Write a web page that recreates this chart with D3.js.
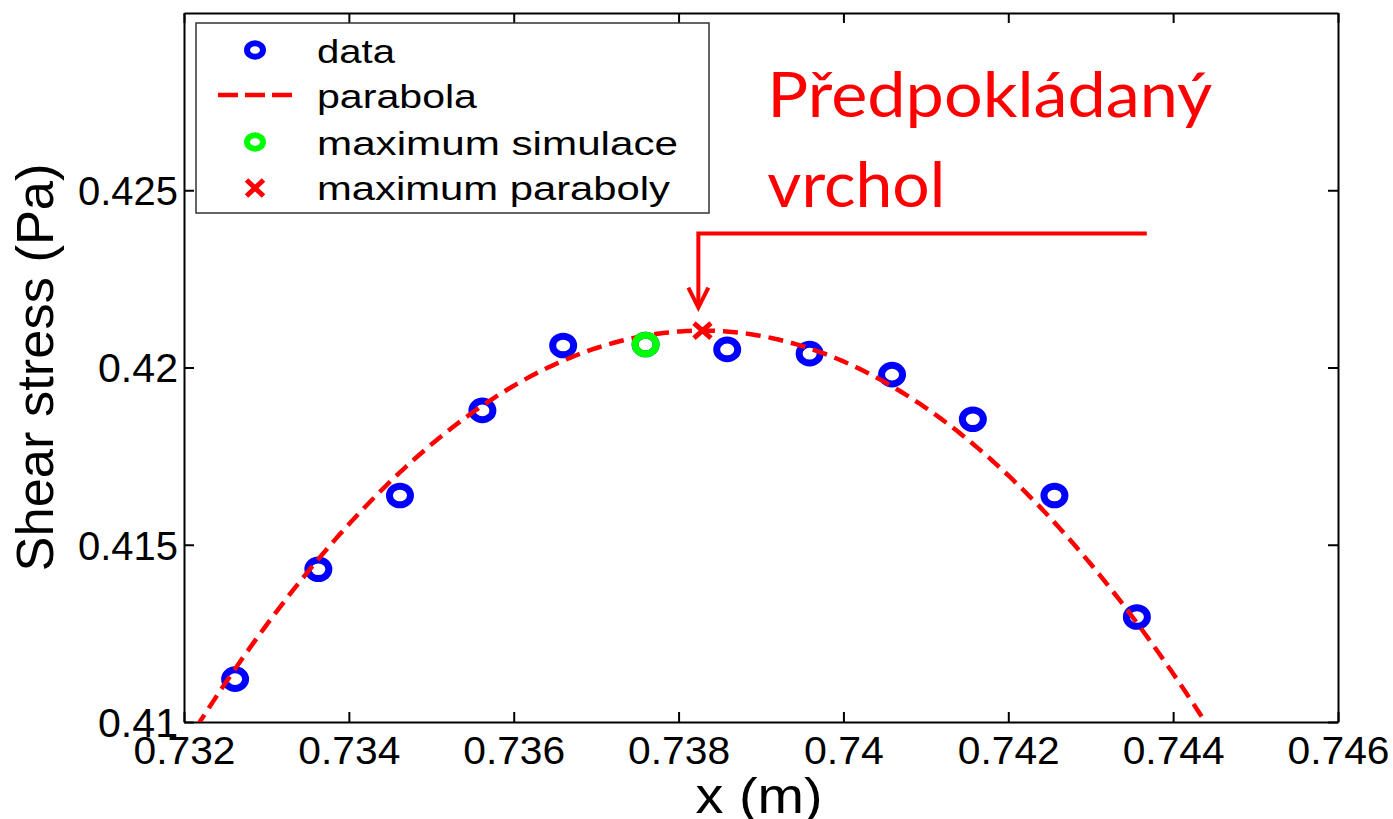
<!DOCTYPE html>
<html>
<head>
<meta charset="utf-8">
<script src="https://cdn.jsdelivr.net/npm/d3@7"></script>
<style>
  html, body { margin: 0; padding: 0; background: #fff; }
  svg { display: block; }
  text { font-family: "Liberation Sans", Arial, Helvetica, sans-serif; fill: #000; }
</style>
</head>
<body>
<svg id="chart" width="1393" height="819"></svg>
<script>
// Sampled shear stress along x
const xValues = [0.73262, 0.73363, 0.73462, 0.73562, 0.73660, 0.73760,
                 0.73859, 0.73959, 0.74059, 0.74157, 0.74256, 0.74356];
const stressValues = [0.41121, 0.41431, 0.41639, 0.41879, 0.42062, 0.42065,
                      0.42051, 0.42039, 0.41980, 0.41854, 0.41639, 0.41296];

// Fitted parabola: y = vertexY - curvature * (x - vertexX)^2
const parabolaVertex = [0.73829, 0.42104];
const parabolaCurvature = 296.8;

// Axis ticks
const xTicks = [0.732, 0.734, 0.736, 0.738, 0.74, 0.742, 0.744, 0.746];
const xTickLabels = ["0.732", "0.734", "0.736", "0.738", "0.74", "0.742", "0.744", "0.746"];
const yTicks = [0.41, 0.415, 0.42, 0.425];
const yTickLabels = ["0.41", "0.415", "0.42", "0.425"];

// Legend entries
const legendLabels = ["data", "parabola", "maximum simulace", "maximum paraboly"];

// Callout pointing to the expected peak
const calloutLines = ["Předpokládaný", "vrchol"];
const calloutArrowX = 0.73824;
const calloutTipY = 0.42169;
const calloutBarY = 0.42378;
const calloutBarEndX = 0.74368;

const svg = d3.select("#chart");
const W = 1393, H = 819;
const margin = { left: 184, right: 55, top: 13, bottom: 97 };
const plotW = W - margin.left - margin.right;
const plotH = H - margin.top - margin.bottom;

const x = d3.scaleLinear().domain([0.732, 0.746]).range([margin.left, margin.left + plotW]);
const y = d3.scaleLinear().domain([0.41, 0.43]).range([margin.top + plotH, margin.top]);

svg.append("rect").attr("width", W).attr("height", H).attr("fill", "#fff");

svg.append("defs").append("clipPath").attr("id", "plotClip")
  .append("rect")
  .attr("x", margin.left).attr("y", margin.top)
  .attr("width", plotW).attr("height", plotH);

// Axes box with inward ticks on all four sides
const tickLen = 10;
const axisStroke = 2;
const axX0 = x.range()[0], axX1 = x.range()[1];
const axY0 = y.range()[0], axY1 = y.range()[1];

const bottomAxis = d3.axisBottom(x).tickValues(xTicks).tickSizeInner(-tickLen).tickSizeOuter(0)
  .tickFormat((d, i) => xTickLabels[i]);
const topAxis = d3.axisTop(x).tickValues(xTicks).tickSizeInner(-tickLen).tickSizeOuter(0).tickFormat("");
const leftAxis = d3.axisLeft(y).tickValues(yTicks).tickSizeInner(-tickLen).tickSizeOuter(0)
  .tickFormat((d, i) => yTickLabels[i]);
const rightAxis = d3.axisRight(y).tickValues(yTicks).tickSizeInner(-tickLen).tickSizeOuter(0).tickFormat("");

function styleAxis(g) {
  g.selectAll("path.domain").attr("stroke", "#000").attr("stroke-width", axisStroke);
  g.selectAll(".tick line").attr("stroke", "#000").attr("stroke-width", axisStroke);
}

const gB = svg.append("g").attr("transform", `translate(0,${axY0})`).call(bottomAxis).call(styleAxis);
gB.selectAll(".tick text")
  .attr("y", 42).attr("dy", null)
  .style("font-size", "39px")
  .attr("font-family", "Liberation Sans, Arial, sans-serif")
  .each(function (d, i) {
    const label = xTickLabels[i];
    d3.select(this).attr("textLength", label.length === 4 ? 80 : 102).attr("lengthAdjust", "spacingAndGlyphs");
  });

svg.append("g").attr("transform", `translate(0,${axY1})`).call(topAxis).call(styleAxis);

const gL = svg.append("g").attr("transform", `translate(${axX0},0)`).call(leftAxis).call(styleAxis);
gL.selectAll(".tick text")
  .attr("x", -6).attr("dy", "0.36em")
  .style("font-size", "40px")
  .each(function (d, i) {
    const label = yTickLabels[i];
    d3.select(this).attr("textLength", label.length === 4 ? 80 : 100).attr("lengthAdjust", "spacingAndGlyphs");
  });

svg.append("g").attr("transform", `translate(${axX1},0)`).call(rightAxis).call(styleAxis);
svg.selectAll(".tick text").attr("fill", "#000");

// Axis titles
svg.append("text")
  .attr("x", (axX0 + axX1) / 2 - 2).attr("y", 813)
  .attr("text-anchor", "middle")
  .style("font-size", "50px")
  .attr("textLength", 127).attr("lengthAdjust", "spacingAndGlyphs")
  .text("x (m)");

svg.append("text")
  .attr("transform", `translate(53,${(axY0 + axY1) / 2}) rotate(-90)`)
  .attr("text-anchor", "middle")
  .style("font-size", "52px")
  .attr("textLength", 408).attr("lengthAdjust", "spacingAndGlyphs")
  .text("Shear stress (Pa)");

// Plot layers
const plot = svg.append("g").attr("clip-path", "url(#plotClip)");

const pts = xValues.map((v, i) => ({ x: v, y: stressValues[i] }));

// data markers
plot.selectAll("ellipse.data").data(pts).join("ellipse")
  .attr("class", "data")
  .attr("cx", d => x(d.x)).attr("cy", d => y(d.y))
  .attr("rx", 10.5).attr("ry", 9.3)
  .attr("fill", "none").attr("stroke", "#0000ff").attr("stroke-width", 7);

// fitted parabola
const parabola = xv => parabolaVertex[1] - parabolaCurvature * (xv - parabolaVertex[0]) ** 2;
const curveX = d3.range(0, 401).map(i => x.domain()[0] + (x.domain()[1] - x.domain()[0]) * i / 400);
plot.append("path")
  .datum(curveX)
  .attr("d", d3.line().x(d => x(d)).y(d => y(parabola(d))))
  .attr("fill", "none").attr("stroke", "#ff0000").attr("stroke-width", 4.5)
  .attr("stroke-dasharray", "15,8");

// simulation maximum
const simMax = d3.greatest(pts, d => d.y);
plot.append("ellipse")
  .attr("cx", x(simMax.x)).attr("cy", y(simMax.y))
  .attr("rx", 10.5).attr("ry", 9.3)
  .attr("fill", "none").attr("stroke", "#00ff00").attr("stroke-width", 7);

// parabola maximum
function crossPath(cx, cy, hx, hy) {
  return `M${cx - hx},${cy - hy}L${cx + hx},${cy + hy}M${cx - hx},${cy + hy}L${cx + hx},${cy - hy}`;
}
plot.append("path")
  .attr("d", crossPath(x(parabolaVertex[0]), y(parabolaVertex[1]), 8.5, 7.5))
  .attr("stroke", "#ff0000").attr("stroke-width", 5).attr("fill", "none");

// Legend
const lg = svg.append("g");
lg.append("rect")
  .attr("x", 196).attr("y", 23).attr("width", 513).attr("height", 190)
  .attr("fill", "#fff").attr("stroke", "#333").attr("stroke-width", 1.5);

const rowMarkY = [50, 95, 142, 188];
const rowTextY = [63, 108, 155, 200];
const legendTextW = [78, 160, 361, 353];
const markX = 255;

lg.append("ellipse").attr("cx", markX).attr("cy", rowMarkY[0]).attr("rx", 8).attr("ry", 6.8)
  .attr("fill", "none").attr("stroke", "#0000ff").attr("stroke-width", 6);
lg.append("line").attr("x1", 218).attr("x2", 292).attr("y1", rowMarkY[1]).attr("y2", rowMarkY[1])
  .attr("stroke", "#ff0000").attr("stroke-width", 4.5).attr("stroke-dasharray", "20,7");
lg.append("ellipse").attr("cx", markX).attr("cy", rowMarkY[2]).attr("rx", 8).attr("ry", 6.8)
  .attr("fill", "none").attr("stroke", "#00ff00").attr("stroke-width", 6);
lg.append("path").attr("d", crossPath(markX, rowMarkY[3], 8.5, 8))
  .attr("stroke", "#ff0000").attr("stroke-width", 5).attr("fill", "none");

lg.selectAll("text.leg").data(legendLabels).join("text")
  .attr("class", "leg")
  .attr("x", 317).attr("y", (d, i) => rowTextY[i])
  .style("font-size", "34px")
  .attr("textLength", (d, i) => legendTextW[i]).attr("lengthAdjust", "spacingAndGlyphs")
  .text(d => d);

// Callout: label, bar and arrow down to the expected peak
const ax = x(calloutArrowX);
const barY = y(calloutBarY);
const tipY = y(calloutTipY);
const callout = svg.append("g");
callout.append("path")
  .attr("d", `M${x(calloutBarEndX)},${barY}H${ax}V${tipY - 2}`)
  .attr("fill", "none").attr("stroke", "#ff0000").attr("stroke-width", 4);
callout.append("path")
  .attr("d", `M${ax - 10},${tipY - 20}L${ax},${tipY}L${ax + 10},${tipY - 20}`)
  .attr("fill", "none").attr("stroke", "#ff0000").attr("stroke-width", 4)
  .attr("stroke-linejoin", "miter");

callout.selectAll("text").data(calloutLines).join("text")
  .attr("x", ax + 69)
  .attr("y", (d, i) => barY - 116 + i * 90)
  .style("font-family", "Lato, 'Open Sans', sans-serif")
  .style("font-size", "61px")
  .attr("fill", "#ff0000")
  .style("fill", "#ff0000")
  .attr("textLength", (d, i) => i === 0 ? 445 : 178)
  .attr("lengthAdjust", "spacingAndGlyphs")
  .text(d => d);
</script>
</body>
</html>
